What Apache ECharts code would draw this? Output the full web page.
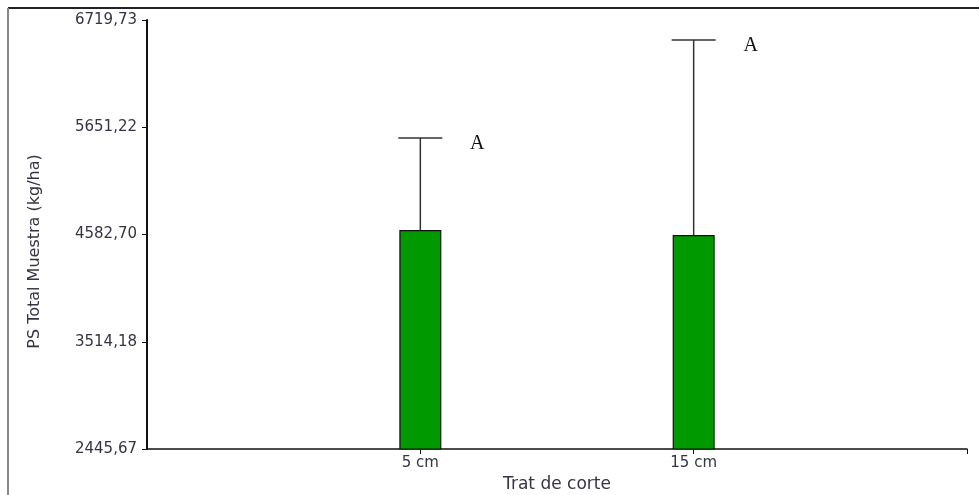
<!DOCTYPE html>
<html>
<head>
<meta charset="utf-8">
<script src="https://cdn.jsdelivr.net/npm/echarts@6/dist/echarts.min.js"></script>
<style>
    html, body { margin: 0; padding: 0; background: #fff; }
    #chart-container { width: 979px; height: 495px; }
</style>
</head>
<body>
<div id="chart-container"></div>
<script>
// categories (empty ends keep the bars at 1/3 and 2/3 of the axis)
const categories = ['', '5 cm', '15 cm', ''];
// means and upper error limits
const means = [null, 4627.6, 4577.7, null];
const upper = [null, 5544.0, 6520.5, null];
const letters = ['', 'A', 'A', ''];
// y tick labels
const yTicks = [2445.67, 3514.18, 4582.70, 5651.22, 6719.73];

const chart = echarts.init(document.getElementById('chart-container'));

const errData = [];
for (let i = 0; i < categories.length; i++) {
    if (means[i] != null) errData.push([i, means[i], upper[i], letters[i]]);
}

const textColor = '#343444';

const option = {
    animation: false,
    backgroundColor: '#fff',
    grid: { left: 147, right: 12, top: 20, bottom: 46, outerBoundsMode: 'none', containLabel: false },
    graphic: [
        { type: 'line', shape: { x1: 8, y1: 8, x2: 979, y2: 8 }, style: { stroke: '#222', lineWidth: 2 } },
        { type: 'line', shape: { x1: 8, y1: 8, x2: 8, y2: 495 }, style: { stroke: '#888', lineWidth: 2 } }
    ],
    xAxis: {
        type: 'category',
        data: categories,
        boundaryGap: false,
        name: 'Trat de corte',
        nameLocation: 'middle',
        nameGap: 27,
        nameTextStyle: { fontFamily: 'DejaVu Sans', fontSize: 17, color: textColor },
        axisLine: { lineStyle: { color: '#111', width: 1.5 } },
        axisTick: { length: 5, lineStyle: { color: '#111' }, interval: (i) => i > 0 },
        axisLabel: { fontFamily: 'DejaVu Sans', fontSize: 15, color: textColor, margin: 7, interval: 0 },
        splitLine: { show: false }
    },
    yAxis: {
        type: 'value',
        min: yTicks[0],
        max: yTicks[yTicks.length - 1],
        name: 'PS Total Muestra (kg/ha)',
        nameLocation: 'middle',
        nameGap: 104,
        nameTextStyle: { fontFamily: 'DejaVu Sans', fontSize: 16, color: textColor, padding: [0, 34, 0, 0] },
        axisLine: { show: true, lineStyle: { color: '#111', width: 2 } },
        axisTick: { show: true, length: 5, lineStyle: { color: '#111' }, customValues: yTicks },
        axisLabel: {
            fontFamily: 'DejaVu Sans', fontSize: 15, color: textColor, margin: 10,
            customValues: yTicks,
            formatter: (v) => v.toFixed(2).replace('.', ',')
        },
        splitLine: { show: false }
    },
    series: [
        {
            type: 'bar',
            data: means.map(v => v == null ? '-' : v),
            barWidth: 42,
            itemStyle: { color: '#009900', borderColor: '#111', borderWidth: 1.2 },
            z: 2
        },
        {
            type: 'custom',
            data: errData,
            z: 3,
            renderItem: (params, api) => {
                const base = api.coord([api.value(0), api.value(1)]);
                const top = api.coord([api.value(0), api.value(2)]);
                const half = 22;
                return {
                    type: 'group',
                    children: [
                        { type: 'line', shape: { x1: base[0], y1: base[1], x2: top[0], y2: top[1] },
                          style: { stroke: '#333', lineWidth: 1.5 } },
                        { type: 'line', shape: { x1: top[0] - half, y1: top[1], x2: top[0] + half, y2: top[1] },
                          style: { stroke: '#333', lineWidth: 1.5 } },
                        { type: 'text', x: top[0] + 57, y: top[1] + 6,
                          style: { text: api.value(3), fill: '#111', font: '20px "Liberation Serif"',
                                   align: 'center', verticalAlign: 'middle' } }
                    ]
                };
            }
        }
    ]
};

chart.setOption(option);
</script>
</body>
</html>
